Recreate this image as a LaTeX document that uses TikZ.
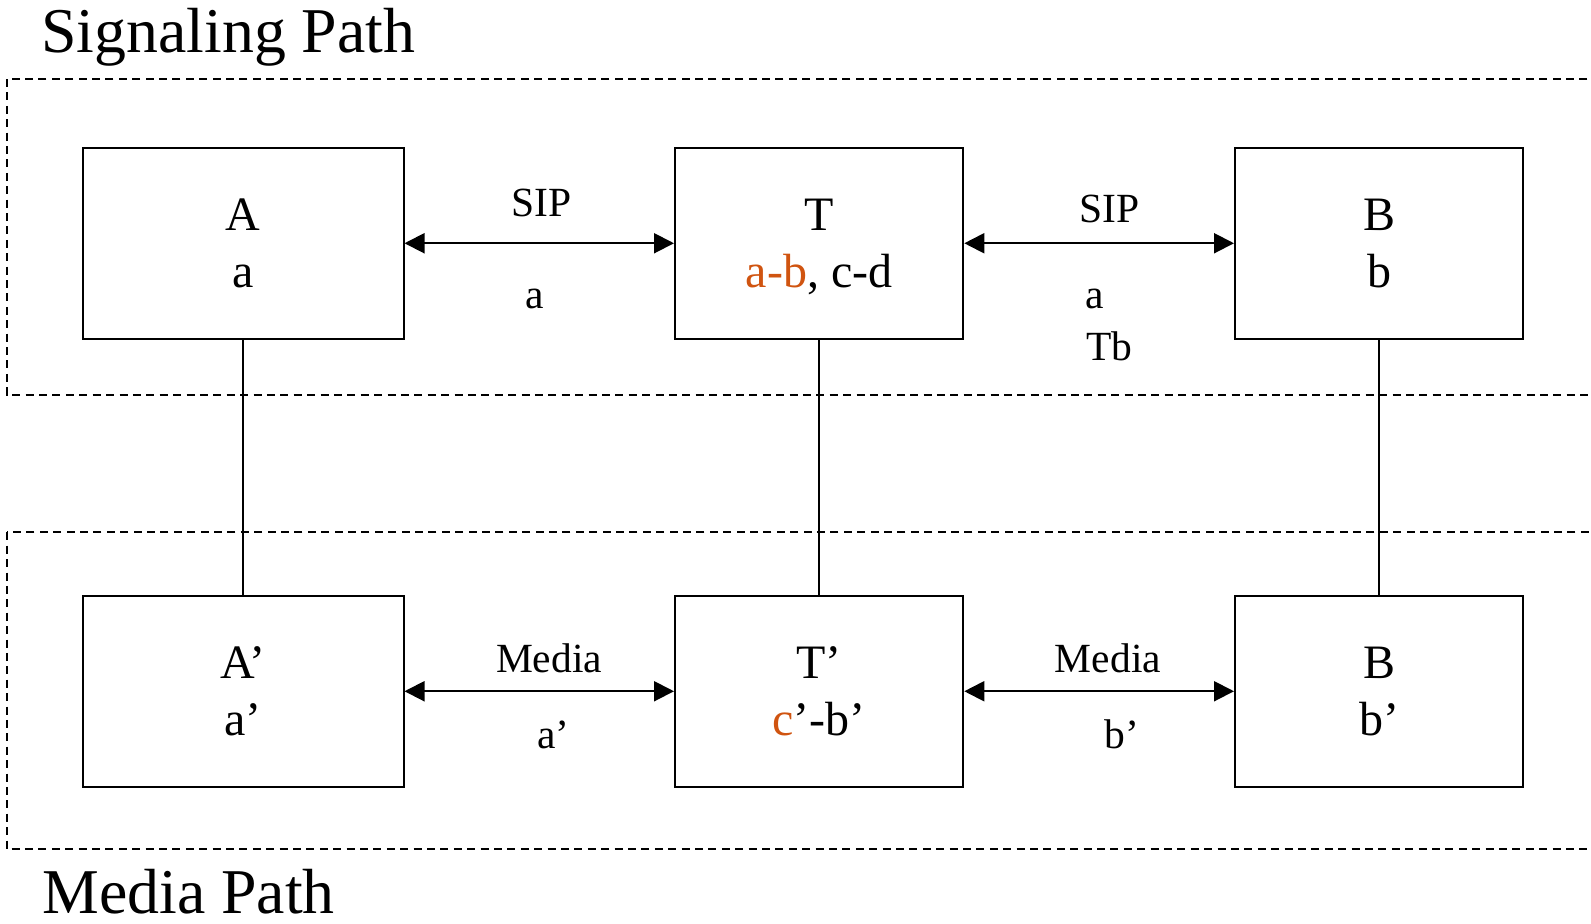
\documentclass[tikz,border=0pt]{standalone}
\usepackage{fontspec}
\setmainfont{Liberation Serif}
\usepackage{tikz}
\usetikzlibrary{arrows.meta, positioning}
\definecolor{sigorange}{RGB}{208,84,16}

\begin{document}
\begin{tikzpicture}[x=0.5pt, y=-0.5pt,
    box/.style={rectangle, draw, line width=1pt, inner sep=0pt, minimum height=95.75pt, text depth=0pt, align=center, font=\fontsize{24}{28.4}\selectfont},
    wide/.style={box, minimum width=160.25pt},
    narrow/.style={box, minimum width=144.15pt},
    zone/.style={dash pattern=on 4pt off 2.7pt, line width=1.1pt},
    arr/.style={{Triangle[length=10pt,width=10pt]}-{Triangle[length=10pt,width=10pt]}, line width=1pt},
    link/.style={line width=0.8pt},
    lbl/.style={anchor=base, inner sep=0pt, font=\fontsize{20.75}{24}\selectfont},
    title/.style={anchor=base west, inner sep=0pt, font=\fontsize{31.9}{36}\selectfont},
  ]
  \useasboundingbox (0,0) rectangle (1591,923);

  % dashed zones, cut off at the right edge
  \draw[zone] (6.7,79) rectangle (1620,395);
  \draw[zone] (6.7,532.3) rectangle (1620,849);
  \node[title] (sigtitle) at (41,52) {Signaling Path};
  \node[title] (medtitle) at (42,913) {Media Path};

  % signaling row
  \node[wide] (A) at (243.25,243.25) {A\\a};
  \node[narrow, right=134.75pt of A] (T) {T\\\textcolor{sigorange}{a-b}, c-d};
  \node[narrow, right=134.85pt of T] (B) {B\\b};

  % media row
  \node[wide, below=127.25pt of A] (Ap) {A’\\a’};
  \node[narrow, below=127.25pt of T] (Tp) {T’\\\textcolor{sigorange}{c}’-b’};
  \node[narrow, below=127.25pt of B] (Bp) {B\\b’};

  \draw[arr] (A) -- node[lbl, xshift=1pt, yshift=13.3pt] {SIP} node[lbl, xshift=-2.3pt, yshift=-32.8pt] {a} (T);
  \draw[arr] (T) -- node[lbl, xshift=5pt, yshift=10.3pt] {SIP}
    node[lbl, anchor=base west, xshift=-7.5pt, yshift=-32.8pt] {a}
    node[lbl, anchor=base west, xshift=-7pt, yshift=-58.5pt] {Tb} (B);
  \draw[arr] (Ap) -- node[lbl, xshift=4.9pt, yshift=9.6pt] {Media} node[lbl, xshift=7pt, yshift=-28.5pt] {a’} (Tp);
  \draw[arr] (Tp) -- node[lbl, xshift=4.4pt, yshift=9.6pt] {Media} node[lbl, xshift=11.5pt, yshift=-28.5pt] {b’} (Bp);

  \draw[link] (A) -- (Ap);
  \draw[link] (T) -- (Tp);
  \draw[link] (B) -- (Bp);
\end{tikzpicture}
\end{document}
